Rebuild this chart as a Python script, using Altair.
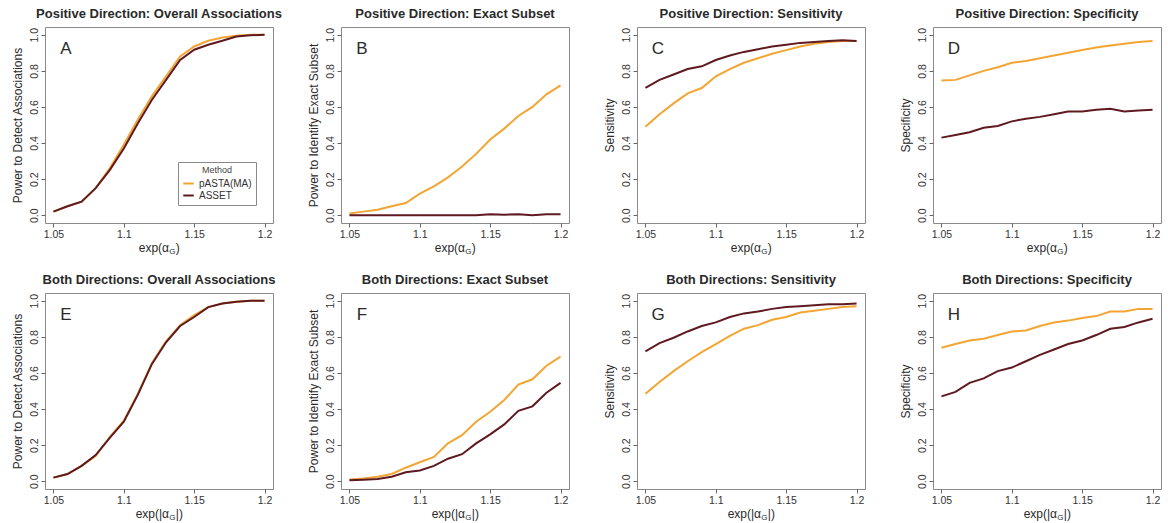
import altair as alt
import pandas as pd

# ---------------- data ----------------
x_vals = [1.05, 1.06, 1.07, 1.08, 1.09, 1.10, 1.11, 1.12, 1.13, 1.14, 1.15, 1.16, 1.17, 1.18, 1.19, 1.20]
methods = ["pASTA(MA)", "ASSET"]

pos_overall_pasta = [0.02, 0.05, 0.075, 0.15, 0.26, 0.39, 0.53, 0.66, 0.77, 0.88, 0.935, 0.967, 0.985, 0.994, 1.0, 1.0]
pos_overall_asset = [0.02, 0.05, 0.075, 0.15, 0.25, 0.37, 0.51, 0.64, 0.75, 0.86, 0.917, 0.945, 0.967, 0.99, 0.997, 1.0]

pos_exact_pasta = [0.01, 0.02, 0.03, 0.05, 0.068, 0.12, 0.16, 0.21, 0.27, 0.34, 0.42, 0.48, 0.55, 0.60, 0.67, 0.72]
pos_exact_asset = [0.0, 0.0, 0.0, 0.0, 0.0, 0.0, 0.0, 0.0, 0.0, 0.0, 0.005, 0.003, 0.006, 0.0, 0.006, 0.005]

pos_sens_pasta = [0.49, 0.56, 0.62, 0.675, 0.705, 0.77, 0.81, 0.845, 0.87, 0.895, 0.915, 0.935, 0.95, 0.96, 0.965, 0.965]
pos_sens_asset = [0.706, 0.75, 0.78, 0.81, 0.825, 0.86, 0.885, 0.905, 0.92, 0.935, 0.945, 0.955, 0.96, 0.965, 0.97, 0.965]

pos_spec_pasta = [0.747, 0.75, 0.775, 0.80, 0.82, 0.845, 0.855, 0.87, 0.885, 0.90, 0.915, 0.93, 0.94, 0.95, 0.96, 0.965]
pos_spec_asset = [0.43, 0.445, 0.46, 0.485, 0.495, 0.52, 0.535, 0.545, 0.56, 0.575, 0.575, 0.585, 0.59, 0.575, 0.58, 0.585]

both_overall_pasta = [0.02, 0.04, 0.085, 0.14, 0.245, 0.335, 0.485, 0.655, 0.775, 0.865, 0.92, 0.965, 0.985, 0.995, 1.0, 1.0]
both_overall_asset = [0.02, 0.04, 0.085, 0.145, 0.24, 0.33, 0.48, 0.65, 0.77, 0.86, 0.91, 0.965, 0.985, 0.995, 1.0, 1.0]

both_exact_pasta = [0.01, 0.015, 0.025, 0.04, 0.075, 0.105, 0.135, 0.21, 0.255, 0.33, 0.385, 0.45, 0.535, 0.565, 0.64, 0.69]
both_exact_asset = [0.005, 0.008, 0.012, 0.025, 0.05, 0.06, 0.085, 0.125, 0.15, 0.21, 0.26, 0.315, 0.39, 0.415, 0.49, 0.545]

both_sens_pasta = [0.485, 0.55, 0.61, 0.665, 0.715, 0.76, 0.805, 0.845, 0.865, 0.895, 0.91, 0.935, 0.945, 0.955, 0.965, 0.97]
both_sens_asset = [0.72, 0.765, 0.795, 0.83, 0.86, 0.88, 0.91, 0.93, 0.94, 0.955, 0.965, 0.97, 0.975, 0.98, 0.98, 0.985]

both_spec_pasta = [0.74, 0.76, 0.78, 0.79, 0.81, 0.83, 0.835, 0.86, 0.88, 0.89, 0.905, 0.915, 0.94, 0.94, 0.955, 0.955]
both_spec_asset = [0.47, 0.495, 0.545, 0.57, 0.61, 0.63, 0.665, 0.70, 0.73, 0.76, 0.78, 0.81, 0.845, 0.855, 0.88, 0.90]

panels = [
    ("Positive Direction: Overall Associations", "Power to Detect Associations", "A", pos_overall_pasta, pos_overall_asset),
    ("Positive Direction: Exact Subset", "Power to Identify Exact Subset", "B", pos_exact_pasta, pos_exact_asset),
    ("Positive Direction: Sensitivity", "Sensitivity", "C", pos_sens_pasta, pos_sens_asset),
    ("Positive Direction: Specificity", "Specificity", "D", pos_spec_pasta, pos_spec_asset),
    ("Both Directions: Overall Associations", "Power to Detect Associations", "E", both_overall_pasta, both_overall_asset),
    ("Both Directions: Exact Subset", "Power to Identify Exact Subset", "F", both_exact_pasta, both_exact_asset),
    ("Both Directions: Sensitivity", "Sensitivity", "G", both_sens_pasta, both_sens_asset),
    ("Both Directions: Specificity", "Specificity", "H", both_spec_pasta, both_spec_asset),
]

x_ticks = [1.05, 1.1, 1.15, 1.2]
y_ticks = [0.0, 0.2, 0.4, 0.6, 0.8, 1.0]

# ---------------- style ----------------
W, H = 228, 196
FONT = "Liberation Sans"
ORANGE = "#F2A533"
MAROON = "#5E1A20"
GRAY = "#8a8a8a"
TXT = "#2a2a2a"


def make_panel(title, ytitle, letter, pasta, asset, bottom_row, with_legend):
    rows = []
    for m, vals in ((methods[0], pasta), (methods[1], asset)):
        for xv, yv in zip(x_vals, vals):
            rows.append({"x": xv, "y": yv, "Method": m})
    df = pd.DataFrame(rows)

    if with_legend:
        legend = alt.Legend(
            title="Method", orient="none", legendX=133, legendY=135,
            strokeColor=GRAY, fillColor="white", padding=4,
            titleFontSize=9, titleFontWeight="normal", titleAnchor="middle",
            titleColor="#444", titleFont=FONT, titlePadding=2,
            labelFontSize=10, labelFont=FONT, labelColor="#333",
            symbolType="stroke", symbolStrokeWidth=2, symbolSize=110,
            rowPadding=0, labelOffset=4,
        )
    else:
        legend = None

    lines = alt.Chart(df).mark_line(strokeWidth=2).encode(
        x=alt.X("x:Q", scale=alt.Scale(domain=[1.044, 1.206], nice=False, zero=False),
                axis=alt.Axis(values=x_ticks, format="~g", title=None,
                              labelFlush=False, labelOverlap=False, labelPadding=2)),
        y=alt.Y("y:Q", scale=alt.Scale(domain=[-0.043, 1.043], nice=False, zero=False),
                axis=alt.Axis(values=y_ticks, format=".1f", title=ytitle,
                              labelAngle=-90, labelAlign="center", labelBaseline="bottom",
                              labelPadding=2, labelOverlap=False, labelFlush=False,
                              titlePadding=5)),
        color=alt.Color("Method:N", scale=alt.Scale(domain=methods, range=[ORANGE, MAROON]),
                        legend=legend),
        order=alt.Order("x:Q"),
        detail="Method:N",
    )

    letter_df = pd.DataFrame({"t": [letter]})
    letter_mark = alt.Chart(letter_df).mark_text(
        fontSize=17, font=FONT, color=TXT, align="center", baseline="middle"
    ).encode(text="t:N", x=alt.value(21), y=alt.value(22))

    # x-axis title with subscript G
    if bottom_row:
        main, tail = "exp(|\u03b1", "|)"
        main_w, tail_w = 33.4, 7.1
    else:
        main, tail = "exp(\u03b1", ")"
        main_w, tail_w = 30.3, 4.0
    g_w = 6.2
    total = main_w + g_w + tail_w
    start = W / 2 - total / 2
    ty = H + 25
    tdf = pd.DataFrame({"a": [main], "g": ["G"], "c": [tail]})
    t_main = alt.Chart(tdf).mark_text(fontSize=12, font=FONT, color=TXT, align="right",
                                      baseline="middle").encode(
        text="a:N", x=alt.value(start + main_w), y=alt.value(ty))
    t_g = alt.Chart(tdf).mark_text(fontSize=8, font=FONT, color=TXT, align="left",
                                   baseline="middle").encode(
        text="g:N", x=alt.value(start + main_w + 0.3), y=alt.value(ty + 4))
    t_tail = alt.Chart(tdf).mark_text(fontSize=12, font=FONT, color=TXT, align="left",
                                      baseline="middle").encode(
        text="c:N", x=alt.value(start + main_w + g_w + 0.6), y=alt.value(ty))

    return alt.layer(lines, letter_mark, t_main, t_g, t_tail).properties(
        width=W, height=H,
        title=alt.TitleParams(title, fontSize=13, fontWeight="bold", font=FONT,
                              color=TXT, offset=6, anchor="middle"),
    )


charts = []
for i, (t, yt, letter, pa, asv) in enumerate(panels):
    charts.append(make_panel(t, yt, letter, pa, asv, i >= 4, i == 0))

chart = alt.concat(
    *charts, columns=4, spacing={"row": 70, "column": 68}, bounds="flush"
).resolve_legend(
    color="independent"
).properties(
    padding={"left": 10, "top": 7, "right": 0, "bottom": 0},
    background="white",
).configure_view(
    stroke=GRAY, strokeWidth=1
).configure_axis(
    domain=False, grid=False, tickColor="#666", tickSize=4,
    labelColor="#333", labelFont=FONT, labelFontSize=10.5,
    titleColor=TXT, titleFont=FONT, titleFontSize=12, titleFontWeight="normal",
)

chart.save("out.html", embed_options={"renderer": "svg", "actions": False})
